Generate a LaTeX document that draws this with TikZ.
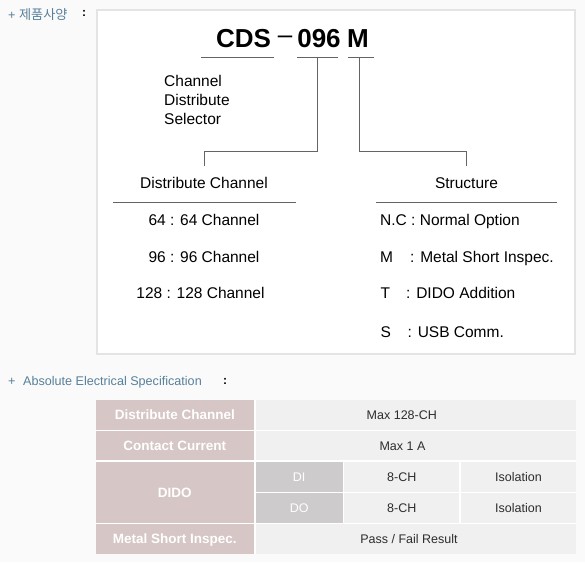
\documentclass[tikz,border=0pt]{standalone}
\usepackage{fontspec}
\setmainfont{Liberation Sans}
\newfontfamily\krfont{Noto Sans CJK KR}
\definecolor{pagebg}{RGB}{250,250,250}
\definecolor{framegray}{RGB}{228,228,228}
\definecolor{rulegray}{RGB}{100,100,100}
\definecolor{secblue}{RGB}{88,128,155}
\definecolor{headrose}{RGB}{214,198,198}
\definecolor{subgray}{RGB}{205,203,203}
\definecolor{valgray}{RGB}{240,240,240}
\definecolor{valink}{RGB}{45,45,45}
\begin{document}
\begin{tikzpicture}[x=1pt, y=-1pt,
    txt/.style={inner sep=0pt, anchor=base, font=\fontsize{15.5}{19}\selectfont},
    big/.style={inner sep=0pt, anchor=base, font=\fontsize{26}{30}\selectfont\bfseries},
    rule/.style={rulegray, line width=1pt},
    conn/.style={rulegray, line width=1pt},
    sec/.style={inner sep=0pt, anchor=base west, secblue, font=\fontsize{12.6}{15}\selectfont},
    colon/.style={inner sep=0pt, anchor=base, font=\fontsize{12}{14}\selectfont\bfseries},
    cellhead/.style={fill=headrose, text=white, inner sep=0pt, text height=9.7pt, text depth=0pt,
      font=\fontsize{13.5}{16}\selectfont\bfseries},
    cellsub/.style={fill=subgray, text=white, inner sep=0pt, text height=9pt, text depth=0pt,
      font=\fontsize{12.5}{15}\selectfont},
    cellval/.style={fill=valgray, text=valink, inner sep=0pt, text height=9pt, text depth=0pt,
      font=\fontsize{12.5}{15}\selectfont},
    valtxt/.style={text=valink, inner sep=0pt, text height=9pt, text depth=0pt,
      font=\fontsize{12.5}{15}\selectfont},
  ]
  % Page and frame
  \fill[pagebg] (0,0) rectangle (585,562);
  \draw[framegray, line width=2pt, fill=white] (97,10) rectangle (575,354);

  % Section titles
  \node[sec] (prodtitle) at (8,19.5) {+ {\krfont\fontsize{13.2}{15}\selectfont 제품사양}};
  \node[colon] (prodcolon) at (84,16.7) {:};
  \node[sec] (specplus) at (8,385.7) {+};
  \node[sec] (spectitle) at (23,385.7) {Absolute Electrical Specification};
  \node[colon] (speccolon) at (225,384.3) {:};

  % Model code
  \node[big] (cds) at (243.5,47.5) {CDS};
  \node[inner sep=0pt, font=\fontsize{26}{30}\selectfont] (dash) at (285,40) {–};
  \node[big] (num) at (319,47.5) {096};
  \node[big] (mtype) at (358,47.5) {M};
  \draw[rule] (201,57) -- (274,57);
  \draw[rule] (297,57) -- (338,57);
  \draw[rule] (348,57) -- (374,57);
  \coordinate (numfoot) at (317.5,57);
  \coordinate (typefoot) at (359,57);

  % Full name
  \node[inner sep=0pt, anchor=north west, align=left, font=\fontsize{15.5}{19}\selectfont]
    (fullname) at (164,75) {Channel\\Distribute\\Selector};

  % Headings
  \node[txt] (distch) at (204,188.8) {Distribute Channel};
  \node[txt] (struct) at (466.5,188.8) {Structure};
  \draw[rule] (113,202) -- (296,202);
  \draw[rule] (376,202) -- (557,202);

  % Connectors
  \draw[conn] (numfoot) -- ++(0,94) -| ([yshift=11.5pt]distch.north);
  \draw[conn] (typefoot) -- ++(0,94) -| ([yshift=11.5pt]struct.north);

  % Channel options
  \node[txt] (ch64) at (204,225.3) {64 : 64 Channel};
  \node[txt] (ch96) at (204,262) {96 : 96 Channel};
  \node[txt] (ch128) at (200.5,298.3) {128 : 128 Channel};

  % Structure options
  \node[txt, anchor=base west] (optnc) at (380,225.3) {N.C : Normal Option};
  \node[txt, anchor=base west] (optm) at (380,262) {M};
  \node[txt, anchor=base west] (optmtxt) at (410,262) {: Metal Short Inspec.};
  \node[txt, anchor=base west] (optt) at (380.5,298.3) {T};
  \node[txt, anchor=base west] (opttxt) at (406,298.3) {: DIDO Addition};
  \node[txt, anchor=base west] (opts) at (380.5,337.7) {S};
  \node[txt, anchor=base west] (optstxt) at (407.5,337.7) {: USB Comm.};

  % Specification table
  \fill[white] (95.7,399.7) rectangle (576,553.7);
  \node[cellhead, minimum width=158.3pt, minimum height=30pt] (hdist) at (174.8,414.7) {Distribute Channel};
  \node[cellval, minimum width=320.3pt, minimum height=30pt,
    label={[valtxt, xshift=-14pt]center:Max 128-CH}] (vdist) at (415.8,414.7) {};
  \node[cellhead, minimum width=158.3pt, minimum height=29.3pt] (hcur) at (174.8,445.7) {Contact Current};
  \node[cellval, minimum width=320.3pt, minimum height=29.3pt,
    label={[valtxt, xshift=-13.3pt]center:Max 1 A}] (vcur) at (415.8,445.7) {};
  \node[cellhead, minimum width=158.3pt, minimum height=61pt] (hdido) at (174.8,492.2) {DIDO};
  \node[cellsub, minimum width=87pt, minimum height=30pt] (disub) at (299.2,476.7) {DI};
  \node[cellval, minimum width=115pt, minimum height=30pt] (dich) at (401.8,476.7) {8-CH};
  \node[cellval, minimum width=115pt, minimum height=30pt] (diiso) at (518.5,476.7) {Isolation};
  \node[cellsub, minimum width=87pt, minimum height=29.7pt] (dosub) at (299.2,507.8) {DO};
  \node[cellval, minimum width=115pt, minimum height=29.7pt] (doch) at (401.8,507.8) {8-CH};
  \node[cellval, minimum width=115pt, minimum height=29.7pt] (doiso) at (518.5,507.8) {Isolation};
  \node[cellhead, minimum width=158.3pt, minimum height=29.7pt] (hmsi) at (174.8,538.8) {Metal Short Inspec.};
  \node[cellval, minimum width=320.3pt, minimum height=29.7pt,
    label={[valtxt, xshift=-6.8pt]center:Pass / Fail Result}] (vmsi) at (415.8,538.8) {};
\end{tikzpicture}
\end{document}
